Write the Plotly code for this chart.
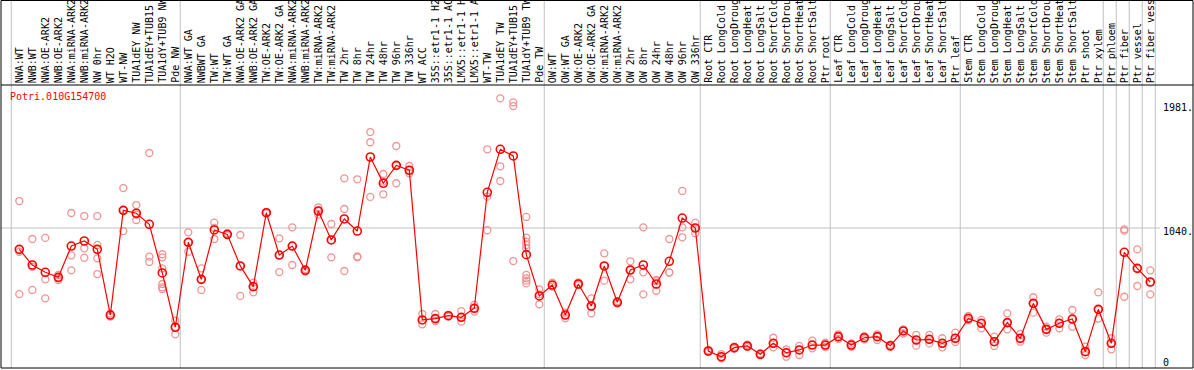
import plotly.graph_objects as go

categories = [
    "NWA:WT", "NWB:WT", "NWA:OE-ARK2", "NWB:OE-ARK2", "NWA:miRNA-ARK2", "NWB:miRNA-ARK2",
    "NW 0hr", "WT H2O", "WT-NW", "TUA1dEY NW", "TUA1dEY+TUB15", "TUA1dY+TUB9 NW", "Pde NW",
    "NWA:WT GA", "NWBWT GA", "TW:WT", "TW:WT GA", "NWA:OE-ARK2 GA", "NWB:OE-ARK2 GA",
    "TW:OE-ARK2", "TW:OE-ARK2 GA", "NWA:miRNA-ARK2", "NWB:miRNA-ARK2", "TW:miRNA-ARK2",
    "TW:miRNA-ARK2", "TW 2hr", "TW 8hr", "TW 24hr", "TW 48hr", "TW 96hr", "TW 336hr",
    "WT ACC", "35S::etr1-1 H2O", "35S::etr1-1 ACC", "LMX5::etr1-1 H2O", "LMX5::etr1-1 ACC",
    "WT-TW", "TUA1dEY TW", "TUA1dEY+TUB15", "TUA1dY+TUB9 TW", "Pde TW",
    "OW:WT", "OW:WT GA", "OW:OE-ARK2", "OW:OE-ARK2 GA", "OW:miRNA-ARK2", "OW:miRNA-ARK2",
    "OW 2hr", "OW 8hr", "OW 24hr", "OW 48hr", "OW 96hr", "OW 336hr",
    "Root CTR", "Root LongCold", "Root LongDrought", "Root LongHeat", "Root LongSalt",
    "Root ShortCold", "Root ShortDrought", "Root ShortHeat", "Root ShortSalt", "Ptr root",
    "Leaf CTR", "Leaf LongCold", "Leaf LongDrought", "Leaf LongHeat", "Leaf LongSalt",
    "Leaf ShortCold", "Leaf ShortDrought", "Leaf ShortHeat", "Leaf ShortSalt", "Ptr leaf",
    "Stem CTR", "Stem LongCold", "Stem LongDrought", "Stem LongHeat", "Stem LongSalt",
    "Stem ShortCold", "Stem ShortDrought", "Stem ShortHeat", "Stem ShortSalt", "Ptr shoot",
    "Ptr xylem", "Ptr phloem", "Ptr fiber", "Ptr vessel", "Ptr fiber vessel",
]

means = [
    879, 761, 706, 668, 904, 942, 879, 384, 1173, 1151, 1068, 701, 292,
    932, 653, 1025, 992, 754, 598, 1155, 836, 904, 721, 1168, 950, 1108, 1017, 1575,
    1377, 1512, 1475, 347, 357, 379, 367, 435, 1309, 1633, 1583, 839, 528,
    610, 384, 618, 452, 754, 480, 723, 761, 618, 789, 1115, 1040,
    113, 70, 138, 151, 88, 171, 100, 121, 158, 158,
    221, 158, 213, 221, 153, 264, 196, 201, 171, 209,
    359, 322, 183, 327, 209, 472, 276, 322, 354, 108, 427,
    171, 857, 736, 633,
]

replicates = [
    [1243, 861, 542], [957, 748, 573], [965, 653, 510], [686, 661, 648],
    [1153, 834, 721], [1130, 887, 816], [1130, 912, 811, 693], [395, 384, 372],
    [1341, 1175, 1017], [1213, 1140, 1100], [1605, 824, 784],
    [842, 819, 736, 618, 593, 580], [341, 295, 239],
    [1007, 932, 861], [736, 653, 573], [1080, 1040, 957], [1000, 992, 985],
    [987, 754, 528], [628, 598, 555], [1160, 1155, 1150], [962, 836, 708],
    [1045, 904, 761], [730, 721, 712], [1196, 1168, 1140], [1070, 950, 819],
    [1414, 1183, 716], [1407, 825, 819], [1763, 1686, 1274], [1447, 1390, 1294],
    [1658, 1512, 1377], [1507, 1475, 1452], [392, 347, 314], [392, 357, 339],
    [385, 379, 372], [414, 367, 334], [460, 435, 410], [1633, 1276, 1023],
    [2017, 1505, 1394], [1987, 1959, 791],
    [1123, 967, 937, 912, 887, 686, 661, 643, 623], [578, 540, 465],
    [628, 610, 598], [402, 384, 359], [630, 618, 610], [510, 452, 397],
    [849, 754, 643], [490, 480, 470], [789, 723, 653], [1045, 706, 540],
    [648, 640, 567], [957, 706, 704], [1319, 1045, 970], [1080, 1040, 1000],
    [120, 113, 106], [90, 70, 58], [145, 138, 130], [160, 151, 143], [95, 88, 80],
    [213, 171, 141], [126, 100, 70], [151, 121, 83], [191, 158, 133], [176, 158, 143],
    [239, 221, 205], [170, 158, 145], [225, 213, 200], [239, 221, 196], [160, 153, 143],
    [276, 264, 245], [234, 196, 153], [235, 201, 170], [209, 171, 141], [251, 209, 180],
    [377, 359, 345], [347, 322, 284], [221, 183, 151], [397, 327, 276], [241, 209, 183],
    [518, 472, 402], [296, 276, 251], [352, 322, 284], [422, 354, 296], [146, 108, 83],
    [555, 427, 357],
    [209, 171, 126], [1030, 1020, 522], [879, 736, 603], [721, 633, 540],
]

group_starts = [0, 13, 41, 53, 63, 73, 84, 85, 86, 87, 88]
y_tick_values = [0, 1040, 1981]
y_tick_text = ["0", "1040.", "1981."]
gene_name = "Potri.010G154700"

FONT = "DejaVu Sans Mono"
W, H = 1194, 370
ML, MR, MT, MB = 1, 1, 85, 2
PW = W - ML - MR
PH = H - MT - MB
STEP = 13.0
X0 = (ML - 19.3) / STEP
X1 = X0 + PW / STEP
Y0, Y1 = -15.1, 2117.5


def py(pix):
    return (H - MB - pix) / PH


def px(pix):
    return (pix - ML) / PW


xs = list(range(len(categories)))
rx, ry = [], []
for i, reps in enumerate(replicates):
    for v in reps:
        rx.append(i)
        ry.append(v)

fig = go.Figure()
fig.add_trace(go.Scatter(
    x=rx, y=ry, mode="markers",
    marker=dict(symbol="circle-open", size=7, color="#f09494", line=dict(width=1.3)),
    showlegend=False, hoverinfo="skip", cliponaxis=False,
))
fig.add_trace(go.Scatter(
    x=xs, y=means, mode="lines+markers",
    line=dict(color="#ff0000", width=1.2),
    marker=dict(symbol="circle-open", size=8, color="#ff0000", line=dict(width=1.6)),
    showlegend=False, cliponaxis=False,
))

shapes = []
for g in group_starts:
    shapes.append(dict(type="line", xref="x", yref="paper", x0=g - 0.62, x1=g - 0.62,
                       y0=0, y1=py(0), line=dict(color="#c0c0c0", width=1), layer="below"))
shapes.append(dict(type="line", xref="paper", yref="y", x0=0, x1=px(1160),
                   y0=1040, y1=1040, line=dict(color="#c0c0c0", width=1), layer="below"))
# frame
shapes.append(dict(type="rect", xref="paper", yref="paper", x0=0, x1=1, y0=0, y1=py(0.5),
                   line=dict(color="black", width=1)))
shapes.append(dict(type="line", xref="paper", yref="paper", x0=0, x1=1, y0=1, y1=1,
                   line=dict(color="black", width=1)))

annotations = []
for i, c in enumerate(categories):
    annotations.append(dict(x=i, xref="x", y=py(85), yref="paper", text=c, showarrow=False,
                            textangle=-90, xanchor="center", yanchor="bottom",
                            font=dict(family=FONT, size=10, color="black")))
for v, t in zip(y_tick_values, y_tick_text):
    shift = 4 if v == 0 else -4
    annotations.append(dict(x=px(1161), xref="paper", y=v, yref="y", text=t, showarrow=False,
                            xanchor="left", yanchor="middle", yshift=shift,
                            font=dict(family=FONT, size=10, color="black")))
annotations.append(dict(x=px(8), xref="paper", y=py(97), yref="paper", text=gene_name,
                        showarrow=False, xanchor="left", yanchor="middle",
                        font=dict(family=FONT, size=10, color="#ff0000")))

fig.update_layout(
    width=W, height=H,
    margin=dict(l=ML, r=MR, t=MT, b=MB, pad=0),
    paper_bgcolor="white", plot_bgcolor="white",
    xaxis=dict(range=[X0, X1], showgrid=False, zeroline=False, showticklabels=False,
               ticks="", showline=False, fixedrange=True),
    yaxis=dict(range=[Y0, Y1], showgrid=False, zeroline=False, showticklabels=False,
               ticks="", showline=False, fixedrange=True),
    shapes=shapes, annotations=annotations,
    showlegend=False,
)

fig.write_html(
    "out.html",
    config={"displayModeBar": False},
    post_script="document.body.style.margin='0';document.body.style.overflow='hidden';",
)
